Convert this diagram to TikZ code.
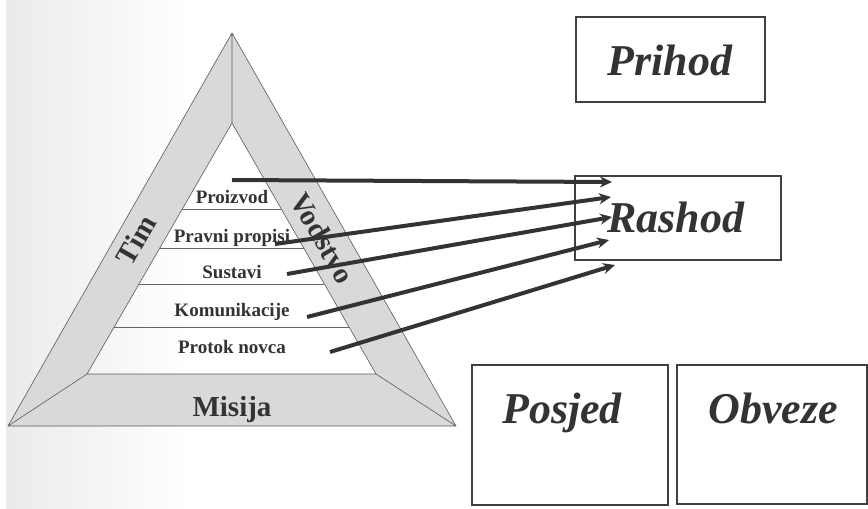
\documentclass[tikz,border=0pt]{standalone}
\usepackage{fontspec}
\setmainfont{Liberation Serif}
\usetikzlibrary{arrows.meta}
\usetikzlibrary{calc}
\usetikzlibrary{positioning}

\begin{document}
\begin{tikzpicture}[x=1pt,y=-1pt,>={Stealth[length=12pt,width=11pt]},
	layer/.style={font=\fontsize{19}{21}\selectfont\bfseries,text=black!80,inner sep=0pt,anchor=base},
	side/.style={font=\fontsize{29}{31}\selectfont\bfseries,text=black!80,inner sep=0pt},
	box/.style={draw=black!75,line width=2.2pt,inner sep=0pt},
	title/.style={font=\fontsize{44}{46}\selectfont\bfseries\itshape,text=black!80,inner sep=0pt,anchor=base},
	flow/.style={->,draw=black!80,line width=4pt}]

	\useasboundingbox (0,0) rectangle (868,509);
	\fill[white] (0,0) rectangle (868,509);
	\shade[left color=gray!16,right color=white] (6,0) rectangle (190,509);

	% pyramid
	\coordinate (top) at (232,33);
	\coordinate (bl) at (8,426);
	\coordinate (br) at (456,426);
	\coordinate (itop) at (232,123);
	\coordinate (ibl) at (87,374);
	\coordinate (ibr) at (376,374);

	\fill[gray!30,even odd rule] (top) -- (bl) -- (br) -- cycle (itop) -- (ibl) -- (ibr) -- cycle;
	\draw[black!65,line width=0.6pt] (top) -- (bl) -- (br) -- cycle
		(itop) -- (ibl) -- (ibr) -- cycle
		(top) -- (itop) (bl) -- (ibl) (br) -- (ibr);
	\foreach \t in {0.343,0.498,0.641,0.813}
		\draw[black!60,line width=0.6pt] ($(itop)!\t!(ibl)$) -- ($(itop)!\t!(ibr)$);

	\node[layer] (proizvod) at (232,203) {Proizvod};
	\node[layer] (propisi) at (232,242) {Pravni propisi};
	\node[layer] (sustavi) at (232,278) {Sustavi};
	\node[layer] (komunikacije) at (232,316) {Komunikacije};
	\node[layer] (novac) at (232,353) {Protok novca};

	\node[side,anchor=base] (misija) at (232,416) {Misija};
	\node[side,rotate=60] (tim) at (136,240) {Tim};
	\node[side,rotate=-60] (vodstvo) at (323,238) {Vodstvo};

	% boxes
	\node[box,minimum width=189pt,minimum height=85pt] (prihodbox) at (670.5,59.5) {};
	\node[box,minimum width=206pt,minimum height=84pt] (rashodbox) at (678,218) {};
	\node[box,minimum width=196pt,minimum height=140pt] (posjedbox) at (570,435) {};
	\node[box,minimum width=190pt,minimum height=139pt] (obvezebox) at (772,434.5) {};

	\node[title] (prihod) at (670,75) {Prihod};
	\node[title] (rashod) at (676,232) {Rashod};
	\node[title] (posjed) at (562,423) {Posjed};
	\node[title] (obveze) at (773,423) {Obveze};

	% arrows into Rashod
	\coordinate (s1) at (232,180);
	\coordinate (s2) at (275,244);
	\coordinate (s3) at (287,274);
	\coordinate (s4) at (307,317);
	\coordinate (s5) at (330,352);
	\coordinate (e1) at (612,182);
	\coordinate (e2) at (611,197);
	\coordinate (e3) at (612,217);
	\coordinate (e4) at (609,240);
	\coordinate (e5) at (615,265);

	\path
	(s1) edge [flow] (e1)
	(s2) edge [flow] (e2)
	(s3) edge [flow] (e3)
	(s4) edge [flow] (e4)
	(s5) edge [flow] (e5);
\end{tikzpicture}
\end{document}
